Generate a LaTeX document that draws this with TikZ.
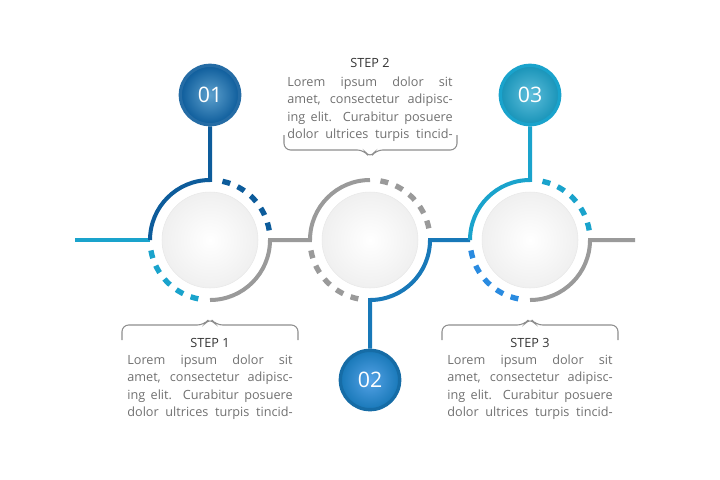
\documentclass[tikz,border=0pt]{standalone}
\usepackage{fontspec}
\setmainfont{Open Sans}
\definecolor{dblue}{HTML}{0D5C9B}
\definecolor{mblue}{HTML}{1878B8}
\definecolor{lblue}{HTML}{1AA3CC}
\definecolor{bblue}{HTML}{2A8BE0}
\definecolor{lgray}{HTML}{9A9A9A}
\definecolor{tgray}{HTML}{707070}
\begin{document}
\begin{tikzpicture}[x=0.75pt,y=-0.75pt,
 solidarc/.style={line width=3pt},
 dasharc/.style={line width=4pt,dash pattern=on 6pt off 6pt},
 ball/.style={circle,minimum size=44.5pt,inner sep=0pt,text=white,font=\fontsize{16}{16}\selectfont,line width=2.5pt},
 disc/.style={circle,minimum size=72pt,inner sep=0pt,inner color=white,outer color=gray!12,draw=gray!18},
 brace/.style={draw=tgray!80,line width=0.8pt,rounded corners=5pt},
 ttl/.style={font=\fontsize{9.5}{10}\selectfont,text=black!80},
 para/.style={font=\fontsize{9.5}{13}\selectfont,text=tgray,align=left}]
\useasboundingbox (0,0) rectangle (720,479);
\newcommand{\lns}[4]{\makebox[124pt][s]{#1}\\\makebox[124pt][s]{#2}\\\makebox[124pt][s]{#3}\\\makebox[124pt][s]{#4}}
% discs
\node[disc] (c1) at (210,240) {};
\node[disc] (c2) at (370,240) {};
\node[disc] (c3) at (530,240) {};
\node[ball,inner color=mblue!70,outer color=dblue,draw=dblue!90] (b1) at (210,95) {01};
\node[ball,inner color=bblue!80,outer color=mblue,draw=mblue!90!black] (b2) at (370,380) {02};
\node[ball,inner color=lblue!70,outer color=lblue!90!black,draw=lblue] (b3) at (530,95) {03};
% left group
\coordinate (s0) at (75,240);
\draw[solidarc,lblue] (s0) -- (150,240);
\draw[solidarc,dblue] (150,240) arc[start angle=-180,end angle=-90,radius=60] -- (b1.south);
\draw[dasharc,dblue] (210,240) ++(-78:60) arc[start angle=-78,end angle=-8,radius=60];
\draw[dasharc,lblue] (210,240) ++(170:60) arc[start angle=170,end angle=100,radius=60];
\draw[solidarc,lgray] (210,300) arc[start angle=90,end angle=0,radius=60] -- (310,240) arc[start angle=-180,end angle=-90,radius=60];
% middle
\draw[dasharc,lgray] (370,240) ++(-80:60) arc[start angle=-80,end angle=-10,radius=60];
\draw[dasharc,lgray] (370,240) ++(170:60) arc[start angle=170,end angle=100,radius=60];
\draw[solidarc,mblue] (b2.north) -- (370,300) arc[start angle=90,end angle=0,radius=60] -- (470,240);
\draw[solidarc,lblue] (470,240) arc[start angle=-180,end angle=-90,radius=60] -- (b3.south);
% right
\draw[dasharc,lblue] (530,240) ++(-78:60) arc[start angle=-78,end angle=-8,radius=60];
\draw[dasharc,bblue] (530,240) ++(170:60) arc[start angle=170,end angle=100,radius=60];
\coordinate (e0) at (635,240);
\draw[solidarc,lgray] (530,300) arc[start angle=90,end angle=0,radius=60] -- (e0);
% braces
\draw[brace] (122,340) -- (122,325) -- (204,325) -- (210,318) -- (216,325) -- (298,325) -- (298,340);
\draw[brace] (442,340) -- (442,325) -- (524,325) -- (530,318) -- (536,325) -- (618,325) -- (618,340);
\draw[brace] (284,135) -- (284,150) -- (364,150) -- (370,158) -- (376,150) -- (457,150) -- (457,135);
% texts
\node[ttl] (t2) at (370,63) {STEP 2};
\node[para,anchor=north] (p2) at (370,72) {\lns{Lorem ipsum dolor sit}{amet, consectetur adipisc-}{ing elit. Curabitur posuere}{dolor ultrices turpis tincid-}};
\node[ttl] (t1) at (210,343) {STEP 1};
\node[para,anchor=north] (p1) at (210,350) {\lns{Lorem ipsum dolor sit}{amet, consectetur adipisc-}{ing elit. Curabitur posuere}{dolor ultrices turpis tincid-}};
\node[ttl] (t3) at (530,343) {STEP 3};
\node[para,anchor=north] (p3) at (530,350) {\lns{Lorem ipsum dolor sit}{amet, consectetur adipisc-}{ing elit. Curabitur posuere}{dolor ultrices turpis tincid-}};
\end{tikzpicture}
\end{document}
